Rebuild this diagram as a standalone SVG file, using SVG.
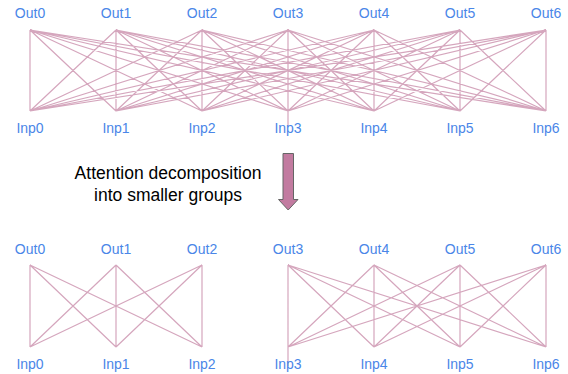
<svg xmlns="http://www.w3.org/2000/svg" width="568" height="374" viewBox="0 0 568 374">
<style>
.e{stroke:#d5a6bd;stroke-width:1.2;fill:none}
.l{font-family:"Liberation Sans",Arial,sans-serif;font-size:14px;fill:#4a86e8;text-anchor:middle}
.c{font-family:"Liberation Sans",Arial,sans-serif;font-size:17.5px;fill:#000;text-anchor:middle}
</style>
<rect width="568" height="374" fill="#fff"/>
<g id="connectors">
<path class="e" d="M30 30L30 111M30 30L116 111M30 30L202 111M30 30L288 111M30 30L374 111M30 30L460 111M30 30L546 111
M116 30L30 111M116 30L116 111M116 30L202 111M116 30L288 111M116 30L374 111M116 30L460 111M116 30L546 111
M202 30L30 111M202 30L116 111M202 30L202 111M202 30L288 111M202 30L374 111M202 30L460 111M202 30L546 111
M288 30L30 111M288 30L116 111M288 30L202 111M288 30L288 126M288 30L374 111M288 30L460 111M288 30L546 111
M374 30L30 111M374 30L116 111M374 30L202 111M374 30L288 111M374 30L374 111M374 30L460 111M374 30L546 111
M460 30L30 111M460 30L116 111M460 30L202 111M460 30L288 111M460 30L374 111M460 30L460 111M460 30L546 111
M546 30L30 111M546 30L116 111M546 30L202 111M546 30L288 111M546 30L374 111M546 30L460 111M546 30L546 111"/>
<path class="e" d="M30 265L30 347M30 265L116 347M30 265L202 347
M116 265L30 347M116 265L116 347M116 265L202 347
M202 265L30 347M202 265L116 347M202 265L202 347"/>
<path class="e" d="M288 265L288 366M288 265L374 347M288 265L460 347M288 265L546 347
M374 265L288 347M374 265L374 347M374 265L460 347M374 265L546 347
M460 265L288 347M460 265L374 347M460 265L460 347M460 265L546 347
M546 265L288 347M546 265L374 347M546 265L460 347M546 265L546 347"/>
</g>
<g id="top-out">
<text class="l" x="30" y="18">Out0</text><text class="l" x="116" y="18">Out1</text><text class="l" x="202" y="18">Out2</text><text class="l" x="288" y="18">Out3</text><text class="l" x="374" y="18">Out4</text><text class="l" x="460" y="18">Out5</text><text class="l" x="546" y="18">Out6</text>
</g>
<g id="top-inp">
<text class="l" x="30" y="133">Inp0</text><text class="l" x="116" y="133">Inp1</text><text class="l" x="202" y="133">Inp2</text><text class="l" x="288" y="133">Inp3</text><text class="l" x="374" y="133">Inp4</text><text class="l" x="460" y="133">Inp5</text><text class="l" x="546" y="133">Inp6</text>
</g>
<g id="caption">
<text class="c" x="168" y="179">Attention decomposition</text>
<text class="c" x="168" y="201">into smaller groups</text>
</g>
<g id="arrow">
<path d="M283 153.5H293.5V199.5H298L288.2 210L278.5 199.5H283Z" fill="#c27ba0" stroke="#666" stroke-width="1"/>
</g>
<g id="bottom-out">
<text class="l" x="30" y="254">Out0</text><text class="l" x="116" y="254">Out1</text><text class="l" x="202" y="254">Out2</text><text class="l" x="288" y="254">Out3</text><text class="l" x="374" y="254">Out4</text><text class="l" x="460" y="254">Out5</text><text class="l" x="546" y="254">Out6</text>
</g>
<g id="bottom-inp">
<text class="l" x="30" y="369">Inp0</text><text class="l" x="116" y="369">Inp1</text><text class="l" x="202" y="369">Inp2</text><text class="l" x="288" y="369">Inp3</text><text class="l" x="374" y="369">Inp4</text><text class="l" x="460" y="369">Inp5</text><text class="l" x="546" y="369">Inp6</text>
</g>
</svg>
